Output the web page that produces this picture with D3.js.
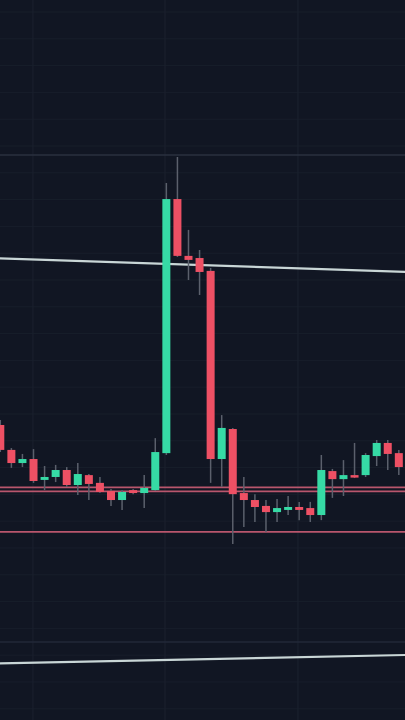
<!DOCTYPE html>
<html><head><meta charset="utf-8">
<script src="https://cdn.jsdelivr.net/npm/d3@7/dist/d3.min.js"></script>
<style>html,body{margin:0;padding:0;background:#111623;overflow:hidden}</style>
</head><body><svg id="c" width="405" height="720"></svg>
<script>
// candle index (time slots)
const candles = d3.range(0, 38);
const opens  = [10.59,9.66,9.17,9.32,8.54,8.65,8.91,8.35,8.72,8.43,8.13,7.79,8.16,8.05,8.16,9.54,19.02,16.90,16.82,16.34,9.32,10.44,8.05,7.79,7.57,7.34,7.42,7.53,7.49,7.23,8.87,8.57,8.72,8.72,9.43,9.92,9.54,9.47];
const highs  = [10.78,9.73,9.51,9.69,9.06,9.10,9.02,9.17,8.76,8.65,8.20,8.16,8.20,8.72,10.10,19.62,20.59,17.87,17.12,16.45,10.96,10.48,8.65,8.01,7.79,7.83,7.94,7.72,7.72,9.47,8.95,9.28,9.92,9.54,10.03,10.03,9.66,9.58];
const lows   = [9.58,8.99,9.02,8.43,8.16,8.46,8.28,7.98,7.79,8.05,7.57,7.42,8.01,7.49,8.13,9.47,16.86,16.00,15.44,8.43,8.28,6.15,6.78,6.97,6.60,6.97,7.23,7.04,6.97,7.04,7.87,7.94,8.61,8.65,9.06,8.91,8.72,8.91];
const closes = [9.66,9.17,9.32,8.50,8.65,8.91,8.35,8.76,8.39,8.09,7.79,8.09,8.05,8.24,9.58,19.02,16.90,16.75,16.30,9.32,10.48,8.01,7.79,7.53,7.34,7.49,7.53,7.42,7.23,8.91,8.57,8.72,8.65,9.47,9.92,9.51,9.02,9.06];
// horizontal levels
const redLevels = [8.26, 8.11, 6.60];
const greyLevels = [20.66, 2.49];
// trend lines [startIndex, startPrice, endIndex, endPrice]
const trendUpper = [-1, 16.82, 38, 16.28];
const trendLower = [-1, 1.69, 38, 2.02];
// vertical grid positions (in candle index units)
const vGrid = [2.95, 14.88, 26.89];

const W = 405, H = 720;
const svg = d3.select('#c');
const x = d3.scaleLinear().domain([0, 37]).range([0.3, 0.3 + 37 * 11.07]);
const y = d3.scaleLinear().domain([-0.418, 26.448]).range([H, 0]);

svg.append('rect').attr('width', W).attr('height', H).attr('fill', '#111623');

// grid
const g = svg.append('g');
g.selectAll('line.h').data(y.ticks(27)).join('line')
  .attr('x1', 0).attr('x2', W).attr('y1', d => y(d)).attr('y2', d => y(d))
  .attr('stroke', '#181e2b').attr('stroke-width', 1);
g.selectAll('line.v').data(vGrid).join('line')
  .attr('y1', 0).attr('y2', H).attr('x1', d => x(d)).attr('x2', d => x(d))
  .attr('stroke', '#1a202d').attr('stroke-width', 1.2);
g.selectAll('line.gl').data(greyLevels).join('line')
  .attr('x1', 0).attr('x2', W).attr('y1', d => y(d)).attr('y2', d => y(d))
  .attr('stroke', (d, i) => i === 0 ? '#2a313f' : '#222938').attr('stroke-width', 1.5);

// red levels
svg.append('g').selectAll('line').data(redLevels).join('line')
  .attr('x1', 0).attr('x2', W).attr('y1', d => y(d)).attr('y2', d => y(d))
  .attr('stroke', '#b9566d').attr('stroke-width', 1.8);

// trend lines
svg.append('g').selectAll('line').data([trendUpper, trendLower]).join('line')
  .attr('x1', d => x(d[0])).attr('y1', d => y(d[1]))
  .attr('x2', d => x(d[2])).attr('y2', d => y(d[3]))
  .attr('stroke', '#c9d6d6').attr('stroke-width', 2.2);

// candles
const data = candles.map(i => ({i, o: opens[i], h: highs[i], l: lows[i], c: closes[i]}));
const cg = svg.append('g');
cg.selectAll('line').data(data).join('line')
  .attr('x1', d => x(d.i)).attr('x2', d => x(d.i))
  .attr('y1', d => y(d.h)).attr('y2', d => y(d.l))
  .attr('stroke', '#5b606c').attr('stroke-width', 1.5);
const bw = 8;
cg.selectAll('rect').data(data).join('rect')
  .attr('x', d => x(d.i) - bw / 2).attr('width', bw)
  .attr('y', d => y(Math.max(d.o, d.c)))
  .attr('height', d => Math.max(2.5, Math.abs(y(d.o) - y(d.c))))
  .attr('fill', d => d.c >= d.o ? '#36daa5' : '#ee5064');
</script></body></html>
